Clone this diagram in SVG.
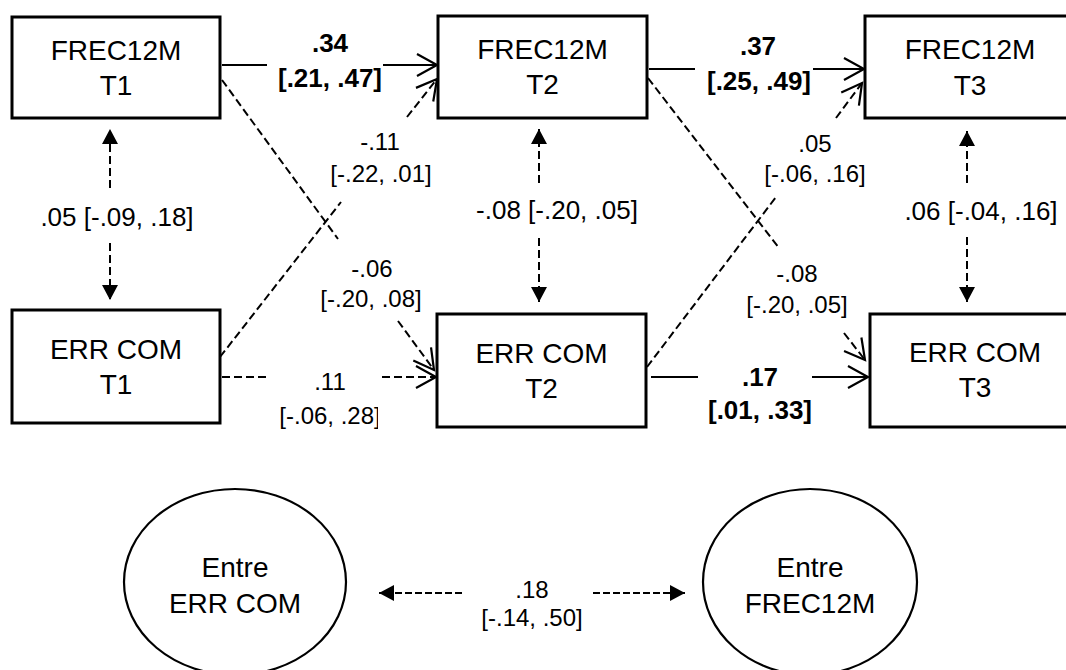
<svg xmlns="http://www.w3.org/2000/svg" width="1066" height="670" viewBox="0 0 1066 670">
<style>
text{font-family:"Liberation Sans",Arial,sans-serif;fill:#000;text-anchor:middle}
.node{font-size:28px}
.lbl{font-size:24px}
.lbl1{font-size:26px}
.b{font-size:26px;font-weight:bold}
.box{fill:#fff;stroke:#000;stroke-width:3}
.ell{fill:#fff;stroke:#000;stroke-width:2.2}
.solid{stroke:#000;stroke-width:2;fill:none}
.dash{stroke:#000;stroke-width:2;fill:none;stroke-dasharray:8 4}
.dash2{stroke:#000;stroke-width:2;fill:none;stroke-dasharray:7 3}
</style>
<defs>
<marker id="open" markerUnits="userSpaceOnUse" viewBox="-25 -15 30 30" markerWidth="30" markerHeight="30" refX="0" refY="0" orient="auto">
<path d="M-20,-11 L0,0 L-20,11" fill="none" stroke="#000" stroke-width="2.2" stroke-dasharray="none"/>
</marker>
<marker id="fill" markerUnits="userSpaceOnUse" viewBox="-20 -10 22 20" markerWidth="22" markerHeight="20" refX="0" refY="0" orient="auto">
<path d="M-15,-8 L0,0 L-15,8 Z" fill="#000" stroke="none"/>
</marker>
<clipPath id="clip28"><rect x="260" y="400" width="118" height="40"/></clipPath>
</defs>

<g id="connectors">
<line class="solid" x1="222" y1="65" x2="267" y2="65"/>
<line class="solid" x1="383" y1="65" x2="437" y2="65" marker-end="url(#open)"/>
<line class="solid" x1="649" y1="69" x2="695" y2="69"/>
<line class="solid" x1="813" y1="69" x2="864" y2="69" marker-end="url(#open)"/>
<line class="solid" x1="651" y1="377" x2="698" y2="377"/>
<line class="solid" x1="812" y1="377" x2="868" y2="377" marker-end="url(#open)"/>
<line class="dash" x1="222" y1="377" x2="268" y2="377"/>
<line class="dash" x1="382" y1="377" x2="436" y2="377" marker-end="url(#open)"/>
<line class="dash" x1="222" y1="80" x2="338" y2="239"/>
<line class="dash" x1="398" y1="321" x2="434" y2="370" marker-end="url(#open)"/>
<line class="dash" x1="220" y1="357" x2="341" y2="202"/>
<line class="dash" x1="407" y1="117" x2="437" y2="79" marker-end="url(#open)"/>
<line class="dash" x1="648" y1="78" x2="779" y2="248"/>
<line class="dash" x1="844" y1="333" x2="865" y2="360" marker-end="url(#open)"/>
<line class="dash" x1="647" y1="367" x2="776" y2="197"/>
<line class="dash" x1="836" y1="118" x2="862" y2="83" marker-end="url(#open)"/>
<line class="dash" x1="110" y1="188" x2="110" y2="129" marker-end="url(#fill)"/>
<line class="dash" x1="110" y1="243" x2="110" y2="300" marker-end="url(#fill)"/>
<line class="dash" x1="539" y1="183" x2="539" y2="129" marker-end="url(#fill)"/>
<line class="dash" x1="539" y1="238" x2="539" y2="302" marker-end="url(#fill)"/>
<line class="dash" x1="967" y1="183" x2="967" y2="131" marker-end="url(#fill)"/>
<line class="dash" x1="967" y1="237" x2="967" y2="302" marker-end="url(#fill)"/>
<line class="dash2" x1="462" y1="593" x2="379" y2="593" marker-end="url(#fill)"/>
<line class="dash2" x1="593" y1="593" x2="685" y2="593" marker-end="url(#fill)"/>
</g>

<g id="labels">
<text class="b" x="330" y="52">.34</text>
<text class="b" x="330" y="87">[.21, .47]</text>
<text class="b" x="758" y="55">.37</text>
<text class="b" x="759" y="90">[.25, .49]</text>
<text class="b" x="760" y="386">.17</text>
<text class="b" x="760" y="419">[.01, .33]</text>
<text class="lbl" x="380" y="150">-.11</text>
<text class="lbl" x="381" y="182">[-.22, .01]</text>
<text class="lbl" x="372" y="277">-.06</text>
<text class="lbl" x="371" y="307">[-.20, .08]</text>
<text class="lbl" x="330" y="390">.11</text>
<text class="lbl" x="330" y="424" clip-path="url(#clip28)">[-.06, .28]</text>
<text class="lbl" x="815" y="152">.05</text>
<text class="lbl" x="815" y="182">[-.06, .16]</text>
<text class="lbl" x="797" y="282">-.08</text>
<text class="lbl" x="797" y="313">[-.20, .05]</text>
<text class="lbl1" x="117" y="226">.05 [-.09, .18]</text>
<text class="lbl1" x="557" y="219">-.08 [-.20, .05]</text>
<text class="lbl1" x="981" y="220">.06 [-.04, .16]</text>
<text class="lbl" x="532" y="598">.18</text>
<text class="lbl" x="532" y="626">[-.14, .50]</text>
</g>

<g id="frec-t1"><rect class="box" x="12" y="17" width="208" height="101"/><text class="node" x="116" y="60">FREC12M</text><text class="node" x="116" y="95">T1</text></g>
<g id="frec-t2"><rect class="box" x="438" y="16" width="209" height="102"/><text class="node" x="542.5" y="59">FREC12M</text><text class="node" x="542.5" y="94">T2</text></g>
<g id="frec-t3"><rect class="box" x="865" y="16" width="210" height="102"/><text class="node" x="970" y="59">FREC12M</text><text class="node" x="970" y="95">T3</text></g>
<g id="err-t1"><rect class="box" x="12" y="310" width="208" height="113"/><text class="node" x="116" y="359">ERR COM</text><text class="node" x="116" y="394">T1</text></g>
<g id="err-t2"><rect class="box" x="437" y="314" width="209" height="113"/><text class="node" x="541.5" y="363">ERR COM</text><text class="node" x="541.5" y="398">T2</text></g>
<g id="err-t3"><rect class="box" x="870" y="314" width="210" height="113"/><text class="node" x="975" y="362">ERR COM</text><text class="node" x="975" y="397">T3</text></g>
<g id="entre-err"><ellipse class="ell" cx="235" cy="582" rx="111" ry="93"/><text class="node" x="235" y="577">Entre</text><text class="node" x="235" y="613">ERR COM</text></g>
<g id="entre-frec"><ellipse class="ell" cx="810" cy="582" rx="107" ry="93"/><text class="node" x="810" y="577">Entre</text><text class="node" x="810" y="613">FREC12M</text></g>
</svg>
